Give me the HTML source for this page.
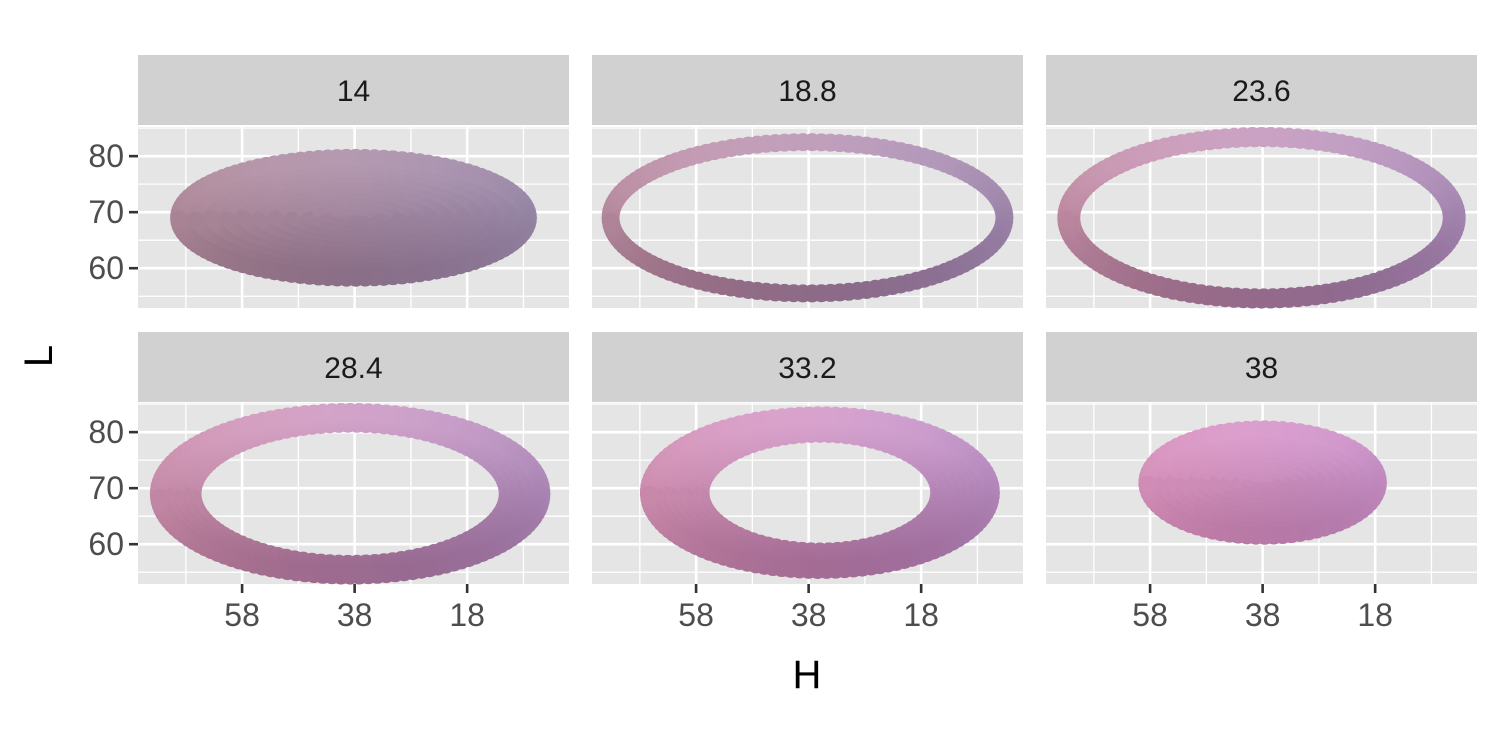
<!DOCTYPE html>
<html><head><meta charset="utf-8">
<style>
body{margin:0;background:#fff;}
svg{display:block;font-family:"Liberation Sans",Arial,sans-serif;}
</style></head>
<body>
<svg id="chart" width="1500" height="750" viewBox="0 0 1500 750"></svg>
<script>
// facet labels (chroma)
const facetLabels = ["14","18.8","23.6","28.4","33.2","38"];
const facetC = [14,18.8,23.6,28.4,33.2,38];
// ellipse centre (H, L)
const centerH = [38.2,38.2,38.2,38.8,36,38];
const centerL = [69,69,69,69,69.2,71];
// outer radii
const outerRH = [31,35,34.7,34,30.4,20.5];
const outerRL = [10.7,13.5,14.6,14.6,13.8,9.5];
// inner radii
const innerRH = [0,35,33.8,28,21.2,0];
const innerRL = [0,13.5,14.2,12.5,10.5,0];
const xTicks = [58,38,18];
const yTicks = [80,70,60];
const xMinor = [68,48,28,8];
const yMinor = [85,75,65,55];

const NS="http://www.w3.org/2000/svg";
const svg=document.getElementById('chart');
function mk(tag,attrs,parent){const e=document.createElementNS(NS,tag);for(const k in attrs)e.setAttribute(k,attrs[k]);(parent||svg).appendChild(e);return e;}

const colX=[138,592,1046], panelW=431;
const rowStrip=[55,332], stripH=70, rowPanel=[127,403], panelH=181;
const hMax=76.5, hMin=-0.1, lMax=85.2, lMin=52.9;
function xs(p,h){return colX[p%3]+(hMax-h)/(hMax-hMin)*panelW;}
function ys(p,l){const r=Math.floor(p/3);return rowPanel[r]+(lMax-l)/(lMax-lMin)*panelH;}

function lerp(a,b,t){return a+(b-a)*t;}
const lowC={tl:[200,162,178],tr:[176,160,190],bl:[140,104,120],br:[124,106,140]};
const hiC={tl:[236,166,204],tr:[214,164,222],bl:[186,112,148],br:[156,104,158]};
function color(h,l,c){
  const tc=Math.max(0,Math.min(1,(c-14)/24));
  const tx=Math.max(0,Math.min(1,(h-4)/(72-4)));
  const ty=Math.max(0,Math.min(1,(l-55)/(84-55)));
  const out=[];
  for(let i=0;i<3;i++){
    const tl=lerp(lowC.tl[i],hiC.tl[i],tc),tr=lerp(lowC.tr[i],hiC.tr[i],tc),bl=lerp(lowC.bl[i],hiC.bl[i],tc),br=lerp(lowC.br[i],hiC.br[i],tc);
    const top=lerp(tr,tl,tx),bot=lerp(br,bl,tx);
    out.push(Math.round(lerp(bot,top,ty)));
  }
  return `rgb(${out[0]},${out[1]},${out[2]})`;
}

for(let p=0;p<6;p++){
  const r=Math.floor(p/3), x0=colX[p%3];
  const g=mk('g',{});
  
  
  const strip=mk('rect',{x:x0,y:rowStrip[r],width:panelW,height:stripH,fill:'#d1d1d1'},g);
  
  
  const st=mk('text',{x:x0+panelW/2,y:rowStrip[r]+stripH/2+11,'text-anchor':'middle','font-size':'30',fill:'#1a1a1a'},g);
  st.textContent=facetLabels[p];
  
  
  const bg=mk('rect',{x:x0,y:rowPanel[r],width:panelW,height:panelH,fill:'#e5e5e5'},g);
  
  
  const y0=rowPanel[r], y1=y0+panelH;
  xMinor.forEach(v=>mk('line',{x1:xs(p,v),x2:xs(p,v),y1:y0,y2:y1,stroke:'#fff','stroke-width':1.3},g));
  yMinor.forEach(v=>{const y=ys(p,v);if(y>y0&&y<y1)mk('line',{x1:x0,x2:x0+panelW,y1:y,y2:y,stroke:'#fff','stroke-width':1.3},g);});
  xTicks.forEach(v=>mk('line',{x1:xs(p,v),x2:xs(p,v),y1:y0,y2:y1,stroke:'#fff','stroke-width':2.6},g));
  yTicks.forEach(v=>mk('line',{x1:x0,x2:x0+panelW,y1:ys(p,v),y2:ys(p,v),stroke:'#fff','stroke-width':2.6},g));
  const pts=mk('g',{},g);
  
  
  const ringCount = innerRH[p]===0 ? 12 : Math.max(1,Math.round((outerRH[p]-innerRH[p])/1.4)+1);
  for(let k=0;k<ringCount;k++){
    const f=ringCount===1?1:k/(ringCount-1);
    const rh=lerp(innerRH[p],outerRH[p],f), rl=lerp(innerRL[p],outerRL[p],f);
    const pxRx=rh*panelW/(hMax-hMin), pxRy=rl*panelH/(lMax-lMin);
    const circ=2*Math.PI*Math.sqrt((pxRx*pxRx+pxRy*pxRy)/2);
    const n=Math.max(1,Math.round(circ/7));
    for(let i=0;i<n;i++){
      const a=(i+0.5*(k%2))/n*2*Math.PI;
      const h=centerH[p]+rh*Math.cos(a), l=centerL[p]+rl*Math.sin(a);
      const c=mk('circle',{cx:xs(p,h),cy:ys(p,l),r:9,fill:color(h,l,facetC[p])},pts);
      
      
    }
  }
  if(p%3===0){
    yTicks.forEach(v=>{
      mk('line',{x1:x0-9,x2:x0,y1:ys(p,v),y2:ys(p,v),stroke:'#333','stroke-width':2.6},g);
      const t=mk('text',{x:x0-14,y:ys(p,v)+11,'text-anchor':'end','font-size':'32',fill:'#4d4d4d'},g);
      t.textContent=v;
      
      
    });
  }
  if(r===1){
    xTicks.forEach(v=>{
      mk('line',{x1:xs(p,v),x2:xs(p,v),y1:y1,y2:y1+9,stroke:'#333','stroke-width':2.6},g);
      const t=mk('text',{x:xs(p,v),y:y1+42,'text-anchor':'middle','font-size':'32',fill:'#4d4d4d'},g);
      t.textContent=v;
      
      
    });
  }
}
const xt=mk('text',{x:807,y:688,'text-anchor':'middle','font-size':'40',fill:'#000'});
xt.textContent='H';


const yt=mk('text',{x:0,y:0,'text-anchor':'middle','font-size':'40',fill:'#000',transform:'translate(52,356) rotate(-90)'});
yt.textContent='L';


</script>
</body></html>
